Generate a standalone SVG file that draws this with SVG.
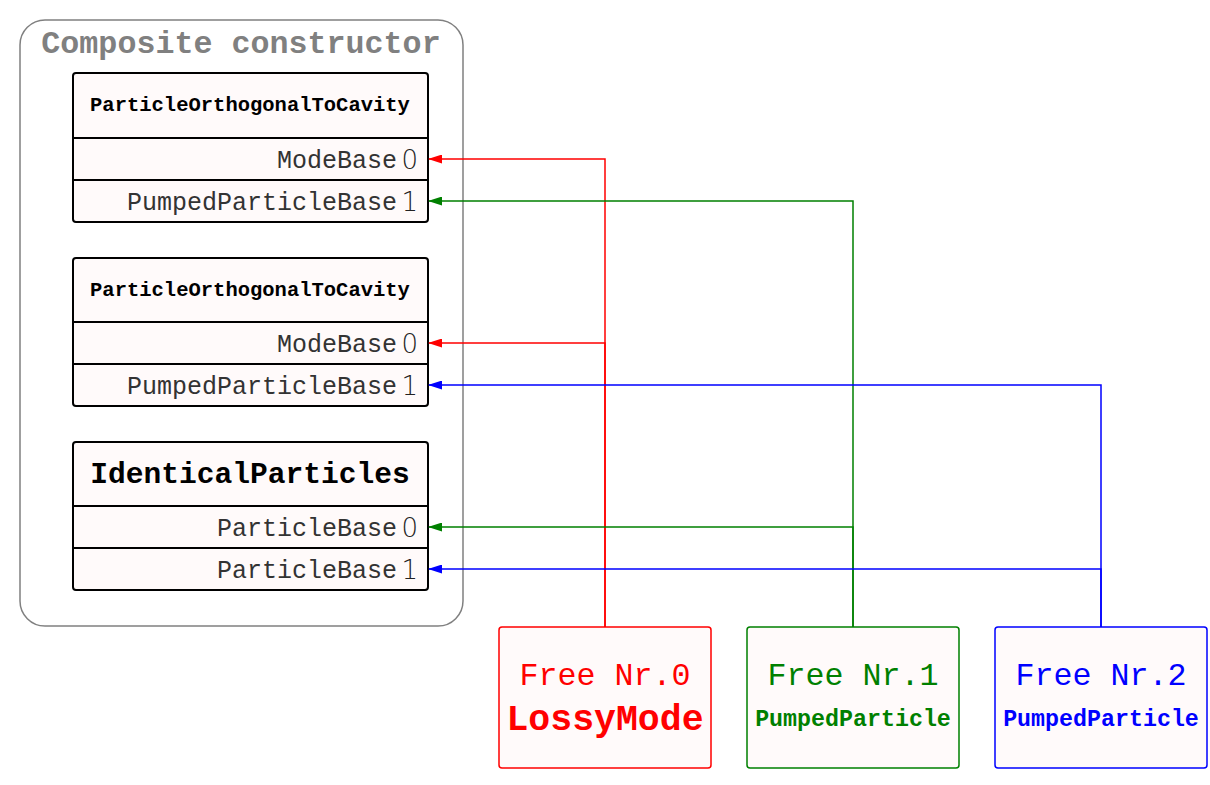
<svg xmlns="http://www.w3.org/2000/svg" width="1210" height="785" viewBox="0 0 1210 785">
<defs>
<style>
.box{fill:#fffafa;stroke:#000;stroke-width:2}
.sep{stroke:#000;stroke-width:2}
.hdr{font-family:"Liberation Mono",monospace;font-weight:bold;text-anchor:middle;fill:#000}
.lbl{font-family:"Liberation Mono",monospace;font-size:25px;text-anchor:end;fill:#333}
.dig{font-family:"DejaVu Sans","Liberation Sans",sans-serif;font-weight:200;font-size:26px;text-anchor:end;fill:#222}
.free1{font-family:"Liberation Mono",monospace;font-size:31.7px;text-anchor:middle}
.edge{fill:none;stroke-width:1.5}
</style>
<marker id="ar" viewBox="0 0 14 9" refX="13" refY="4.5" markerWidth="14" markerHeight="9" markerUnits="userSpaceOnUse" orient="auto"><path d="M0,0L14,4.5L0,9z" fill="#ff0000"/></marker>
<marker id="ag" viewBox="0 0 14 9" refX="13" refY="4.5" markerWidth="14" markerHeight="9" markerUnits="userSpaceOnUse" orient="auto"><path d="M0,0L14,4.5L0,9z" fill="#008000"/></marker>
<marker id="ab" viewBox="0 0 14 9" refX="13" refY="4.5" markerWidth="14" markerHeight="9" markerUnits="userSpaceOnUse" orient="auto"><path d="M0,0L14,4.5L0,9z" fill="#0000ff"/></marker>
</defs>
<rect width="1210" height="785" fill="#fff"/>
<g id="cluster">
<rect x="20" y="20" width="443" height="606" rx="25" fill="none" stroke="#808080" stroke-width="1.5"/>
<text x="241" y="53" font-family="Liberation Mono,monospace" font-weight="bold" font-size="31.7" text-anchor="middle" fill="#808080">Composite constructor</text>
</g>
<g id="node1">
<rect class="box" x="73" y="73" width="355" height="149" rx="3"/>
<line class="sep" x1="73" y1="138" x2="428" y2="138"/>
<line class="sep" x1="73" y1="180" x2="428" y2="180"/>
<text class="hdr" x="250" y="111" font-size="20.5">ParticleOrthogonalToCavity</text>
<text class="lbl" x="397" y="167.5">ModeBase</text><text class="dig" x="418" y="168.5">0</text>
<text class="lbl" x="397" y="209.5">PumpedParticleBase</text><text class="dig" x="418" y="210.5">1</text>
</g>
<g id="node2">
<rect class="box" x="73" y="258" width="355" height="148" rx="3"/>
<line class="sep" x1="73" y1="322" x2="428" y2="322"/>
<line class="sep" x1="73" y1="364" x2="428" y2="364"/>
<text class="hdr" x="250" y="296" font-size="20.5">ParticleOrthogonalToCavity</text>
<text class="lbl" x="397" y="351.5">ModeBase</text><text class="dig" x="418" y="352.5">0</text>
<text class="lbl" x="397" y="393.5">PumpedParticleBase</text><text class="dig" x="418" y="394.5">1</text>
</g>
<g id="node3">
<rect class="box" x="73" y="442" width="355" height="148" rx="3"/>
<line class="sep" x1="73" y1="506" x2="428" y2="506"/>
<line class="sep" x1="73" y1="548" x2="428" y2="548"/>
<text class="hdr" x="250" y="483" font-size="29.6">IdenticalParticles</text>
<text class="lbl" x="397" y="535.5">ParticleBase</text><text class="dig" x="418" y="536.5">0</text>
<text class="lbl" x="397" y="577.5">ParticleBase</text><text class="dig" x="418" y="578.5">1</text>
</g>
<g id="connectors">
<path class="edge" stroke="#ff0000" d="M605,627V159H429" marker-end="url(#ar)"/>
<path class="edge" stroke="#ff0000" d="M605,627V343H429" marker-end="url(#ar)"/>
<path class="edge" stroke="#008000" d="M853,627V201H429" marker-end="url(#ag)"/>
<path class="edge" stroke="#008000" d="M853,627V527H429" marker-end="url(#ag)"/>
<path class="edge" stroke="#0000ff" d="M1101,627V385H429" marker-end="url(#ab)"/>
<path class="edge" stroke="#0000ff" d="M1101,627V569H429" marker-end="url(#ab)"/>
</g>
<g id="free0">
<rect x="499" y="627" width="212" height="141" rx="3" fill="#fffafa" stroke="#ff0000" stroke-width="1.5"/>
<text class="free1" x="605" y="685" fill="#ff0000">Free Nr.0</text>
<text x="605" y="730" font-family="Liberation Mono,monospace" font-weight="bold" font-size="36.5" text-anchor="middle" fill="#ff0000">LossyMode</text>
</g>
<g id="free1">
<rect x="747" y="627" width="212" height="141" rx="3" fill="#fffafa" stroke="#008000" stroke-width="1.5"/>
<text class="free1" x="853" y="685" fill="#008000">Free Nr.1</text>
<text x="853" y="726" font-family="Liberation Mono,monospace" font-weight="bold" font-size="23.3" text-anchor="middle" fill="#008000">PumpedParticle</text>
</g>
<g id="free2">
<rect x="995" y="627" width="212" height="141" rx="3" fill="#fffafa" stroke="#0000ff" stroke-width="1.5"/>
<text class="free1" x="1101" y="685" fill="#0000ff">Free Nr.2</text>
<text x="1101" y="726" font-family="Liberation Mono,monospace" font-weight="bold" font-size="23.3" text-anchor="middle" fill="#0000ff">PumpedParticle</text>
</g>
</svg>
